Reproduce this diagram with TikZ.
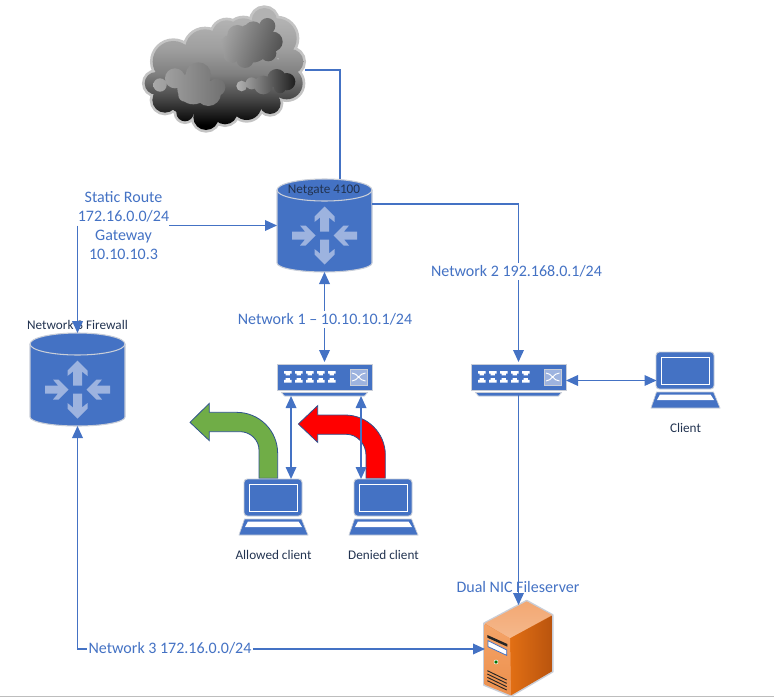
\documentclass[tikz,border=0pt]{standalone}
\usepackage{fontspec}
\setmainfont{Carlito}
\usetikzlibrary{arrows.meta,calc}
\definecolor{netblue}{HTML}{4472C4}
\definecolor{iconedge}{HTML}{C9CED8}
\definecolor{iconarrow}{HTML}{9DB3DF}
\definecolor{labelnavy}{HTML}{223350}
\definecolor{arrowedge}{HTML}{2F528F}
\definecolor{allowgreen}{HTML}{70AD47}
\definecolor{casetoplight}{HTML}{F5B88C}
\definecolor{casetopdark}{HTML}{F2A873}
\definecolor{casefrontlight}{HTML}{F4A468}
\definecolor{casefrontdark}{HTML}{EC8F4C}
\definecolor{casesidelight}{HTML}{E26F14}
\definecolor{casesidedark}{HTML}{B9540E}
\pgfdeclareverticalshading{cloudbody}{100bp}{
  color(0bp)=(black); color(27bp)=(black);
  color(38bp)=(black!72); color(48bp)=(black!50);
  color(58bp)=(black!38); color(70bp)=(black!30); color(100bp)=(black!30)}
\tikzset{
  x=.75pt,y=-.75pt,
  link/.style={draw=netblue,line width=1pt},
  tip/.tip={Triangle[length=9pt,width=8pt]},
  routerbox/.style={minimum width=71.25pt,minimum height=69.75pt,inner sep=0pt,outer sep=0pt},
  switchbox/.style={minimum width=71.25pt,minimum height=24pt,inner sep=0pt,outer sep=0pt},
  laptopbox/.style={minimum width=43.5pt,minimum height=42pt,inner sep=0pt,outer sep=0pt},
  netlabel/.style={font=\fontsize{12}{14.25}\selectfont,text=netblue,inner sep=0pt,align=center},
  smalllabel/.style={font=\fontsize{9.9}{11}\selectfont,text=labelnavy,inner sep=0pt},
  gapped/.style={fill=white,inner xsep=1pt,inner ysep=2pt},
  turnarrow/.style={draw=arrowedge,line width=.6pt,line join=miter},
  % Router: a cylinder with four arrows meeting at the centre
  pics/routericon/.style={code={
    \path[fill=netblue,draw=iconedge,line width=.8pt]
      (-47.5,-35.5) -- (-47.5,37.5)
      .. controls (-47.5,42.5) and (-26.2,46.5) .. (0,46.5)
      .. controls (26.2,46.5) and (47.5,42.5) .. (47.5,37.5)
      -- (47.5,-35.5)
      .. controls (47.5,-41.6) and (26.2,-46.5) .. (0,-46.5)
      .. controls (-26.2,-46.5) and (-47.5,-41.6) .. (-47.5,-35.5) -- cycle;
    \path[draw=iconedge,line width=.8pt] (-47.5,-35.5)
      .. controls (-47.5,-29.4) and (-26.2,-24.5) .. (0,-24.5)
      .. controls (26.2,-24.5) and (47.5,-29.4) .. (47.5,-35.5);
    \foreach \turn in {0,180}{
      \path[fill=iconarrow,rotate around={\turn:(0,10)},shift={(0,10)}]
        (0,-29) -- (10,-19) -- (10,-13.5) -- (4.5,-18) -- (4.5,-4) -- (-4.5,-4) -- (-4.5,-18) -- (-10,-13.5) -- (-10,-19) -- cycle;
      \path[fill=iconarrow,rotate around={\turn:(0,10)},shift={(0,10)}]
        (-9,0) -- (-19,-10) -- (-24.5,-10) -- (-19.5,-4) -- (-32.5,-4) -- (-32.5,4) -- (-19.5,4) -- (-24.5,10) -- (-19,10) -- cycle;
    }
  }},
  % Network switch: case, foot, two rows of ports and the crossed-arrows panel
  pics/switchicon/.style={code={
    \path[fill=netblue,draw=iconedge,line width=.7pt] (-47.5,-14) rectangle (47.5,12.5);
    \path[fill=netblue,draw=iconedge,line width=.5pt] (-43,14.5) -- (43,14.5) -- (40,18) -- (-40,18) -- cycle;
    \foreach \col in {0,...,4}{
      \foreach \row/\flip in {-5/1,2.5/-1}{
        \path[fill=white,shift={(-40.5+11*\col,\row)},yscale=\flip]
          (0,-2) -- (7.5,-2) -- (7.5,.7) -- (5.8,.7) -- (5.8,2.3) -- (1.7,2.3) -- (1.7,.7) -- (0,.7) -- cycle;
      }
    }
    \path[fill=iconarrow,draw=iconedge,line width=.4pt] (25.5,-9) rectangle (43,7);
    \path[draw=white,line width=.7pt] (27.5,-5) .. controls (33,-5) and (35,3) .. (41,3)
      (27.5,3) .. controls (33,3) and (35,-5) .. (41,-5);
  }},
  % Laptop drawn with its top-left at the origin of the local frame
  pics/laptopicon/.style={code={
    \path[fill=netblue,draw=iconedge,line width=.7pt,rounded corners=2.5pt] (5,37) -- (5,0) -- (63,0) -- (63,37) -- cycle;
    \path[draw=white,line width=.7pt] (10,5) rectangle (58,32);
    \path[fill=netblue,draw=iconedge,line width=.5pt] (5.5,40) -- (62.5,40) -- (69,56) -- (0,56) -- cycle;
    \path[fill=white] (9,42.5) -- (59.5,42.5) -- (63,48) -- (6,48) -- cycle;
  }},
}
\begin{document}
\begin{tikzpicture}
\useasboundingbox (0,0) rectangle (774,699);
\path[draw=black!26,line width=.8pt] (0,696.5) -- (774,696.5);

% Internet cloud
\begin{scope}[shift={(130,0)},x=.25pt,y=-.25pt]
  \def\cloudbumps{
    (78,250) circle[radius=34] (130,185) circle[radius=62] (225,148) circle[radius=60]
    (290,105) circle[radius=44] (340,105) circle[radius=50] (403,62) circle[radius=38]
    (440,115) circle[radius=60] (482,185) circle[radius=38] (470,250) circle[radius=48]
    (420,310) circle[radius=32] (350,315) circle[radius=45] (285,335) circle[radius=38]
    (228,352) circle[radius=38] (165,338) circle[radius=26] (105,300) circle[radius=38]
    (175,270) circle[radius=75] (280,240) circle[radius=90] (370,230) circle[radius=90]
  }
  \path[fill=black!23,draw=black!23,line width=4pt] \cloudbumps;
  \path[shading=cloudbody] \cloudbumps;
  % upper, right and left puffs, each lit from the left
  \path[left color=black!36,right color=black!68,shading angle=70]
    (297,130) circle[radius=24] (322,105) circle[radius=30] (370,92) circle[radius=28]
    (412,78) circle[radius=24] (428,125) circle[radius=30] (415,160) circle[radius=24]
    (345,178) circle[radius=26] (305,165) circle[radius=24] (365,130) circle[radius=58];
  \path[left color=black!34,right color=black!56]
    (90,255) circle[radius=20] (135,235) circle[radius=30] (205,225) circle[radius=38]
    (235,280) circle[radius=38] (165,285) circle[radius=20] (190,265) circle[radius=48]
    (260,262) circle[radius=26];
  \path[left color=black!30,right color=black!88]
    (335,258) circle[radius=16] (365,250) circle[radius=18] (400,255) circle[radius=28]
    (440,235) circle[radius=28] (470,245) circle[radius=26] (450,262) circle[radius=18];
\end{scope}
\coordinate (cloudport) at (305,70);

% Turn arrows showing which clients pass the firewall
\begin{scope}[shift={(180,350)},x=.25pt,y=-.25pt]
  \path[fill=allowgreen,turnarrow] (293,385) -- (293,310) .. controls (293,242) and (238,187) .. (170,187) -- (88,187)
    -- (88,160) -- (30,217) -- (88,272) -- (88,245) -- (180,245) .. controls (211,245) and (237,270) .. (237,300) -- (237,385) -- cycle;
  \path[fill=red,turnarrow] (616,385) -- (616,315) .. controls (616,249) and (562,195) .. (495,195) -- (413,195)
    -- (413,167) -- (355,222) -- (413,277) -- (413,253) -- (500,253) .. controls (532,253) and (558,283) .. (558,315) -- (558,385) -- cycle;
\end{scope}

% Devices
\node[routerbox] (netgate) at (324.5,225.5) {};
\pic at (netgate) {routericon};
\node[routerbox] (firewall) at (77.5,379.5) {};
\pic at (firewall) {routericon};
\node[switchbox] (switchone) at (324.5,378) {};
\pic at (switchone) {switchicon};
\node[switchbox] (switchtwo) at (518.5,378) {};
\pic at (switchtwo) {switchicon};
\node[laptopbox] (allowed) at (273.5,507) {};
\pic at (239,479) {laptopicon};
\node[laptopbox] (denied) at (383.5,507) {};
\pic at (349,479) {laptopicon};
\node[laptopbox] (client) at (685.5,380.5) {};
\pic at (651,352) {laptopicon};

% File server in isometric view
\node[minimum width=51pt,minimum height=72pt,inner sep=0pt,outer sep=0pt] (server) at (519,649) {};
\begin{scope}[shift={(450,570)},x=.25pt,y=-.25pt]
  \path[draw=iconedge,line width=1.4pt,line join=round,fill=casefrontdark]
    (230,92) -- (102,160) -- (102,345) -- (183,378) -- (308,305) -- (308,135) -- cycle;
  \path[top color=casetopdark,bottom color=casetoplight]
    (230,94) -- (104,160) -- (180,205) -- (306,135) -- cycle;
  \path[left color=casesidelight,right color=casesidedark]
    (180,205) -- (306,137) -- (306,304) -- (183,376) -- cycle;
  \path[top color=casefrontlight,bottom color=casefrontdark]
    (104,162) -- (180,205) -- (183,376) -- (104,344) -- cycle;
  \path[fill=black!85] (112,195) -- (172,222) -- (172,230) -- (112,203) -- cycle;
  \path[fill=white,draw=netblue,line width=.6pt] (114,212) -- (170,240) -- (170,256) -- (114,230) -- cycle;
  \path[fill=green!45!black,draw=white,line width=.4pt] (138,276) circle[radius=6];
  \foreach \drop in {0,10,20,30}{
    \path[draw=black!85,line width=.7pt] (112,302+\drop) -- (170,330+\drop);
  }
\end{scope}

% Labels
\node[netlabel] (staticroute) at (123.5,225.5) {Static Route\\172.16.0.0/24\\Gateway\\10.10.10.3};
\node[smalllabel] at (324,190) {Netgate 4100};
\node[smalllabel] at (77.5,325) {Network 3 Firewall};
\node[smalllabel] at (273.5,555) {Allowed client};
\node[smalllabel] at (383.5,555) {Denied client};
\node[smalllabel] at (685.5,428) {Client};
\node[netlabel] at (518,587) {Dual NIC Fileserver};

% Links
\draw[link] (cloudport) -| ([xshift=11.6pt]netgate.north);
\draw[link,-{tip}] (staticroute.east) -- (staticroute.east -| netgate.west);
\draw[link,-{tip}] (staticroute.west -| firewall.north) -- (firewall.north);
\draw[link,-{tip}] (netgate.east |- 0,204) -| (switchtwo.north);
\draw[link,{tip}-{tip}] (netgate.south) -- (switchone.north);
\draw[link,{tip}-{tip}] ([xshift=-25.1pt,yshift=-1.5pt]switchone.south) -- ([xshift=-25.1pt]switchone.south |- allowed.north);
\draw[link,{tip}-{tip}] ([xshift=27.4pt,yshift=-1.5pt]switchone.south) -- ([xshift=27.4pt]switchone.south |- denied.north);
\draw[link,{tip}-{tip}] (client.west -| switchtwo.east) -- (client.west);
\draw[link,-{tip}] (switchtwo.south) -- ([yshift=-3pt]switchtwo.south |- server.north);
\draw[link,{tip}-{tip}] (firewall.south) |- (server.west);

% Labels that interrupt a link
\node[netlabel,gapped] at (325,319.5) {Network 1 – 10.10.10.1/24};
\node[netlabel,gapped] at (516.5,271.5) {Network 2 192.168.0.1/24};
\node[netlabel,gapped] at (170,648.5) {Network 3 172.16.0.0/24};
\end{tikzpicture}
\end{document}
